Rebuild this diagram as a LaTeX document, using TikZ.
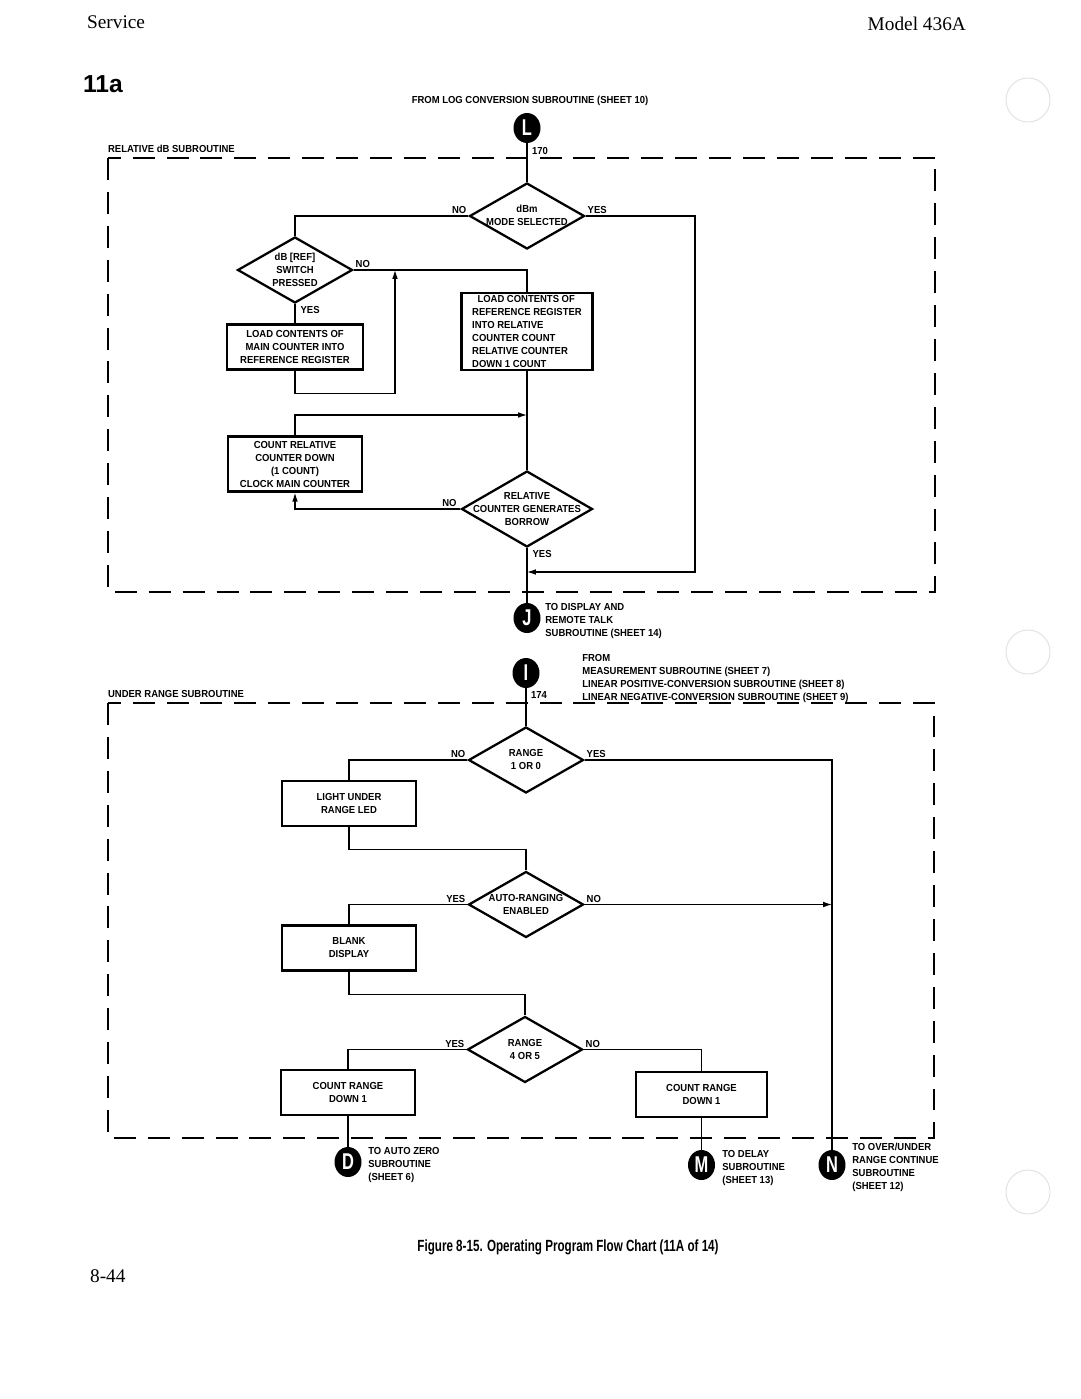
\documentclass[tikz,border=0pt]{standalone}
\usepackage{fontspec}
\setmainfont{Liberation Serif}
\newfontfamily\chartfont[FakeStretch=0.93]{Liberation Sans}
\newfontfamily\capfont[FakeStretch=0.72]{Liberation Sans}
\newfontfamily\headfont{Liberation Sans}
\usepackage{tikz}
\usetikzlibrary{arrows.meta,positioning,shapes.geometric,calc}
\newcommand{\dtext}[1]{\makebox[0pt]{\smash{\raisebox{-1.8pt}{\begin{tabular}{@{}c@{}}#1\end{tabular}}}}}

\begin{document}
\begin{tikzpicture}[x=0.02cm, y=-0.02cm,
    every node/.style={font=\chartfont\bfseries\fontsize{5.8}{7.4}\selectfont, inner sep=1pt},
    decision/.style={diamond, draw, line width=1.3pt, inner sep=0pt, minimum width=2.3cm, minimum height=1.32cm},
    process/.style={rectangle, draw, line width=1.4pt, inner sep=1pt, minimum width=2.68cm, minimum height=0.9cm, align=center},
    offpage/.style={ellipse, fill=black, inner sep=0pt, minimum width=0.54cm, minimum height=0.6cm, text=white, font=\capfont\bfseries\fontsize{13}{13}\selectfont},
    flow/.style={line width=0.65pt},
    arr/.style={flow, -{Latex[length=5pt,width=3.2pt]}},
    subbox/.style={line width=0.7pt, dash pattern=on 12.5pt off 6.8pt},
    note/.style={align=left, anchor=west, inner sep=0pt}]
    \useasboundingbox (0,0) rectangle (1080,1399);

    % page header
    \node[anchor=west, font=\fontsize{11}{13}\selectfont] (svc) at (85,22) {Service};
    \node[anchor=east, font=\fontsize{11}{13}\selectfont] (model) at (968,24) {Model 436A};
    \node[anchor=west, font=\headfont\bfseries\fontsize{14}{14}\selectfont] (sheet) at (81,84) {11a};
    \node (fromL) at (530,101) {FROM LOG CONVERSION SUBROUTINE (SHEET 10)};

    % relative dB subroutine
    \draw[subbox] (108,158) rectangle (935,592);
    \node[anchor=south west] (relttl) at (106,155) {RELATIVE dB SUBROUTINE};
    \node[offpage] (conL) at (527,128) {L};
    \node[anchor=south west] (n170) at (530,157) {170};
    \node[decision] (dbm) at (527,216) {\dtext{dBm\\MODE SELECTED}};
    \node[decision] (dbref) at (295,270) {\dtext{dB [REF]\\SWITCH\\PRESSED}};
    \node[process, minimum width=2.72cm] (ldmain) at (295,347) {LOAD CONTENTS OF\\MAIN COUNTER INTO\\REFERENCE REGISTER};
    \node[process, minimum width=2.62cm, minimum height=1.54cm, align=left] (ldref) at (527,331.5) {\hspace*{3pt}LOAD CONTENTS OF\\REFERENCE REGISTER\\INTO RELATIVE\\COUNTER COUNT\\RELATIVE COUNTER\\DOWN 1 COUNT};
    \node[process, minimum height=1.1cm] (cntrel) at (295,464) {COUNT RELATIVE\\COUNTER DOWN\\(1 COUNT)\\CLOCK MAIN COUNTER};
    \node[decision, minimum width=2.62cm, minimum height=1.52cm] (borrow) at (527,509) {\dtext{RELATIVE\\COUNTER GENERATES\\BORROW}};
    \node[offpage] (conJ) at (527,618) {J};
    \node[note] (toJ) at (545,621) {TO DISPLAY AND\\REMOTE TALK\\SUBROUTINE (SHEET 14)};

    \node[anchor=south east] (dbmno) at (dbm.west) {NO};
    \node[anchor=south west] (dbmyes) at (dbm.east) {YES};
    \node[anchor=south west] (dbrefno) at (dbref.east) {NO};
    \node[anchor=north west, xshift=2pt] (dbrefyes) at (dbref.south) {YES};
    \node[anchor=south east, xshift=-1pt] (brwno) at (borrow.west) {NO};
    \node[anchor=north west, xshift=2pt] (brwyes) at (borrow.south) {YES};

    \coordinate (jn) at (527,572);
    \coordinate (yesr) at (695,572);
    \coordinate (mrg) at (395,270);
    \coordinate (loop) at (527,415);
    \draw[flow] (conL.south) -- (dbm.north);
    \draw[flow] (dbm.west) -| (dbref.north);
    \draw[arr] (dbm.east) -| (yesr) -- (jn);
    \draw[flow] (dbref.east) -| (ldref.north);
    \draw[flow] (dbref.south) -- (ldmain.north);
    \draw[arr] (ldmain.south) -- ++(0,23) -| (mrg);
    \draw[flow] (ldref.south) -- (borrow.north);
    \draw[arr] (cntrel.north) |- (loop);
    \draw[arr] (borrow.west) -| (cntrel.south);
    \draw[flow] (borrow.south) -- (conJ.north);

    % under range subroutine
    \node[offpage] (conI) at (526,673) {I};
    \node[note] (fromI) at (582,678) {FROM\\MEASUREMENT SUBROUTINE (SHEET 7)\\LINEAR POSITIVE-CONVERSION SUBROUTINE (SHEET 8)\\LINEAR NEGATIVE-CONVERSION SUBROUTINE (SHEET 9)};
    \draw[subbox] (108,703) rectangle (934,1138);
    \node[anchor=south west] (urttl) at (106,700) {UNDER RANGE SUBROUTINE};
    \node[anchor=south west] (n174) at (529,701) {174};
    \node[decision] (rng10) at (526,760) {\dtext{RANGE\\1 OR 0}};
    \node[process] (light) at (349,803.5) {LIGHT UNDER\\RANGE LED};
    \node[decision] (auto) at (526,904.5) {\dtext{AUTO-RANGING\\ENABLED}};
    \node[process] (blank) at (349,948) {BLANK\\DISPLAY};
    \node[decision] (rng45) at (525,1049.5) {\dtext{RANGE\\4 OR 5}};
    \node[process] (cntl) at (348,1092.5) {COUNT RANGE\\DOWN 1};
    \node[process, minimum width=2.62cm] (cntr) at (701.5,1094.5) {COUNT RANGE\\DOWN 1};
    \node[offpage] (conD) at (348,1162) {D};
    \node[offpage] (conM) at (701.5,1165) {M};
    \node[offpage] (conN) at (832,1165) {N};
    \node[note] (toD) at (368,1165) {TO AUTO ZERO\\SUBROUTINE\\(SHEET 6)};
    \node[note] (toM) at (722,1168) {TO DELAY\\SUBROUTINE\\(SHEET 13)};
    \node[note] (toN) at (852,1167) {TO OVER/UNDER\\RANGE CONTINUE\\SUBROUTINE\\(SHEET 12)};

    \node[anchor=south east] (r10no) at (rng10.west) {NO};
    \node[anchor=south west] (r10yes) at (rng10.east) {YES};
    \node[anchor=south east] (autoyes) at (auto.west) {YES};
    \node[anchor=south west] (autono) at (auto.east) {NO};
    \node[anchor=south east] (r45yes) at (rng45.west) {YES};
    \node[anchor=south west] (r45no) at (rng45.east) {NO};

    \coordinate (nin) at (conN |- auto.east);
    \draw[flow] (conI.south) -- (rng10.north);
    \draw[flow] (rng10.west) -| (light.north);
    \draw[flow] (rng10.east) -| (conN.north);
    \draw[flow] (light.south) -- ++(0,22) -| (auto.north);
    \draw[flow] (auto.west) -| (blank.north);
    \draw[arr] (auto.east) -- (nin);
    \draw[flow] (blank.south) -- ++(0,23) -| (rng45.north);
    \draw[flow] (rng45.west) -| (cntl.north);
    \draw[flow] (rng45.east) -| (cntr.north);
    \draw[flow] (cntl.south) -- (conD.north);
    \draw[flow] (cntr.south) -- (conM.north);

    % caption, page number, binder holes
    \node[font=\capfont\bfseries\fontsize{9.2}{11}\selectfont] (caption) at (568,1247) {Figure 8-15. Operating Program Flow Chart (11A of 14)};
    \node[anchor=west, font=\fontsize{11}{13}\selectfont] (page) at (88,1276) {8-44};
    \foreach \hy in {100,652,1192}
        \draw[gray!25, line width=0.5pt] (1028,\hy) circle[radius=0.44cm];
\end{tikzpicture}
\end{document}
